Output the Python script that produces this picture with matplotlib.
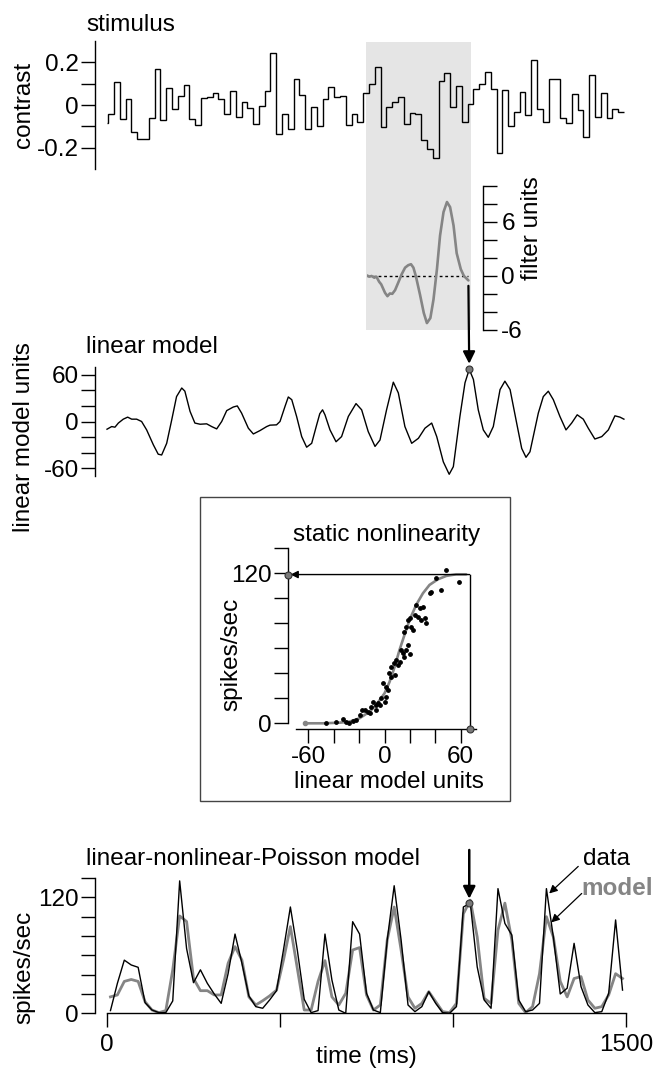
import numpy as np
import matplotlib.pyplot as plt
from matplotlib.patches import Rectangle, ConnectionPatch
import matplotlib.transforms as mtransforms

plt.rcParams['font.family'] = ['Liberation Sans', 'DejaVu Sans']
plt.rcParams['font.size'] = 17.5

# ------------------------------------------------------------
# data
# ------------------------------------------------------------

# stimulus: one contrast value per frame (first frame is partial)
stim_frame_ms = 16.75
stim_first_edge = 3.5
stim_vals = [
    -0.086, -0.04, 0.11, -0.067, 0.028, -0.125, -0.16, -0.16, -0.062, 0.17,
    -0.07, 0.078, -0.02, 0.044, 0.094, -0.066, -0.094, 0.031, 0.039, 0.058,
    0.028, -0.04, 0.067, -0.055, 0.012, -0.016, -0.089, -0.003, 0.067, 0.245,
    -0.137, -0.04, -0.112, 0.12, 0.047, -0.114, -0.011, -0.1, 0.028, 0.086,
    0.039, 0.042, -0.095, -0.044, -0.08, 0.056, 0.1, 0.18, -0.103, -0.008,
    0.016, 0.036, -0.087, -0.037, -0.042, -0.166, -0.206, -0.25, 0.114, 0.148,
    -0.009, 0.09, -0.08, 0.006, 0.077, 0.1, 0.155, 0.073, -0.225, 0.07,
    -0.098, -0.031, 0.063, -0.048, 0.21, -0.02, -0.078, 0.123, 0.123, -0.062,
    -0.084, 0.053, -0.023, -0.152, 0.139, -0.056, 0.058, -0.062, -0.019, -0.031,
]
stim_edges = np.concatenate([[0.0], stim_first_edge + stim_frame_ms * np.arange(len(stim_vals))])

# filter window on the stimulus (ms)
window_ms = (750, 1052)

# linear filter (lag in ms, filter units)
filt_lag = [-300, -292, -286, -278, -272, -264, -258, -247, -240, -233, -226, -218,
            -209, -199, -189, -180, -172, -165, -158, -146, -135, -126, -116, -107,
            -97, -88, -78, -68, -59, -49, -40, -28, -19, -11, -6]
filt_val = [0.07, -0.07, 0.0, -0.19, -0.07, -0.64, -0.93, -1.87, -2.24, -1.94, -1.98, -1.57,
            -0.75, 0.19, 0.93, 1.2, 1.31, 0.93, 0.0, -2.06, -4.11, -5.23, -4.67, -2.62,
            0.75, 4.49, 7.1, 8.22, 7.66, 5.61, 2.54, 0.75, 0.0, -0.3, -0.49]

# linear model output
lin_t = [0, 13.5, 23, 32.8, 47, 59.7, 71.3, 85.7, 100, 114.6, 134, 148, 158, 172.5,
         187, 201, 216, 225, 240, 254, 269, 288, 302.5, 317, 331.5, 346, 365, 376.6,
         389, 408.5, 423, 442, 461.5, 471, 490, 500, 514.5, 524, 534, 548, 562.7, 577,
         591.6, 606, 615, 623, 630, 644.5, 662, 678, 697.5, 719.7, 736, 755, 774.6,
         789, 808, 827.5, 842, 861, 880.6, 900, 919, 938.4, 953, 972, 989, 1001,
         1020, 1034.7, 1047, 1059, 1073, 1087.6, 1102, 1116.5, 1136, 1150, 1165, 1184,
         1198.6, 1211, 1222.5, 1246.6, 1261, 1275.5, 1290, 1309, 1326.6, 1343, 1359,
         1376.6, 1391, 1410, 1430, 1449, 1468, 1482.6, 1494]
lin_val = [-9.9, -6.5, -7.3, -2, 3, 5.6, 3, 3, 0, -10.8, -30, -42, -43, -28,
           2, 32, 43, 39, 13, -2, -3.5, -3, -6.5, -9.5, 0, 14, 18.6, 20,
           10.8, -8.6, -16, -11.7, -6.5, -4.7, -4.3, 0, 19.4, 31.5, 28, 6.5, -19.4, -33,
           -28, -4.3, 10, 15, 8.6, -10.8, -26, -19.4, 6.5, 23, 15, -13, -32,
           -23.8, 15, 50.5, 36.7, -6.5, -28, -21.6, -8.6, -2, -19.4, -51.8, -67.8, -58,
           6.5, 49.7, 67, 54, 15, -10.8, -20.3, -6.5, 41, 51.8, 41, -2,
           -34.6, -46, -38.9, 10.8, 32, 38.9, 28, 6.5, -10.8, -2, 8.6,
           3, -8.6, -22.5, -19.4, -10.8, 7.3, 5.6, 3]

# highlighted time point
peak_t = 1047
peak_lin = 67
peak_rate = 119
peak_lnp = 114.5

# static nonlinearity: fitted curve and binned data
nl_x = [-63, -48.6, -35.4, -27.6, -19.7, -11.8, -6.6, 0, 3.9, 7.9, 11.8, 15.7,
        19.7, 24.9, 30.2, 35.4, 42, 48.6, 56.4, 64.3]
nl_y = [0, 0, 0.5, 1.3, 4, 9.3, 14.7, 24, 33, 45, 58.7, 70.7,
        82.7, 94.7, 104, 110.7, 115.2, 117.9, 119.2, 119.2]
pts_x = [-45.9, -38.1, -32.8, -30.2, -28.1, -24.9, -22.3, -19.7, -17.6, -15.7, -13.1,
         -11.8, -10.5, -9.2, -7.1, -6.6, -5.2, -3.4, -2.6, -1.3, 0, 0.8, 1.3, 2.6,
         3.4, 4.7, 5.2, 7.1, 7.9, 9.2, 10.5, 11.8, 13.1, 14.4, 15.7, 17.1, 18.4,
         19.7, 15.7, 17.1, 18.4, 19.7, 21, 22.3, 23.6, 24.9, 26.2, 27.6, 28.9, 30.2,
         31.5, 32.8, 35.4, 36.7, 40.7, 44.6, 48.6, 58.5]
pts_y = [0.5, 1.3, 3.2, 1.3, 0.5, 2.1, 2.7, 6.7, 10.7, 10.7, 9.3,
         8.5, 13.3, 17.3, 14.7, 10.7, 16, 14.7, 20, 32, 17.3, 29.3, 21.3, 26.7,
         40, 37.3, 45.3, 48, 38.7, 50.7, 46.7, 49.3, 58.7, 56, 53.3, 58.7, 62.7,
         55.5, 73.3, 77.3, 82.7, 84, 77.3, 74.7, 86.7, 94.7, 85.3, 92, 82.7, 93.3,
         84, 80, 104, 105.3, 116, 106.7, 122.7, 113.3]

# LNP model vs data firing rate (20 ms bins)
lnp_t = np.arange(10, 1500, 20)
rate_data = [2.8, 31, 55, 50, 47.6, 11, 3.4, 0.7, 0.7, 12.8, 137, 67, 31.7, 45, 31, 20,
             10.3, 41, 82, 51.7, 18, 6.9, 5.2, 13.8, 23.4, 65.5, 110, 65.5, 14.5, 0.7, 2.8, 82,
             34.5, 3.4, 0, 94.8, 82, 20.7, 3.4, 0.7, 76, 132, 76, 8.6, 1.7, 6.9, 22.4,
             10.3, 0.7, 0, 6.9, 110, 114, 48, 13.8, 5.2, 129, 93, 81, 13.8, 1.7, 3.4,
             10.3, 129, 79, 20, 26, 72.4, 27.6, 8.6, 0.7, 1.7, 20.7, 96.6, 24]
rate_model = [17, 19, 33, 35, 33, 12, 3.4, 0.7, 2.8, 45, 100.7, 95, 36, 23.4, 23.4, 19,
              19, 51.7, 69, 55, 17, 8.6, 13, 18, 24, 55, 89.7, 46.6, 3.4, 3.4, 33, 54.5,
              17, 8.6, 20.7, 65.5, 68, 19, 3.4, 8.6, 76, 110, 65.5, 17, 5.2, 10.3, 22.4,
              12, 1.7, 0.7, 10.3, 103, 117, 79, 15.5, 10.3, 86, 114, 76, 10.3, 0.7, 6.9,
              41, 100, 79, 33, 17, 36, 38, 13.8, 5.2, 6.9, 19, 41, 36]

GRAY = '#858585'
DOT = '#7a7a7a'
SHADE = '#e5e5e5'

# ------------------------------------------------------------
# layout (pixel based)
# ------------------------------------------------------------
W, H = 655, 1071
fig = plt.figure(figsize=(W / 100, H / 100), dpi=100)

T_LIM = (-34.7, 1511.6)


def add_ax(left, top, right, bottom):
    ax = fig.add_axes([left / W, 1 - bottom / H, (right - left) / W, (bottom - top) / H])
    ax.patch.set_visible(False)
    for s in ax.spines.values():
        s.set_visible(False)
        s.set_linewidth(1.0)
    ax.tick_params(direction='out', length=10, width=1.0, pad=1.5)
    return ax


def ftext(x, y, s, **kw):
    fig.text(x / W, 1 - y / H, s, **kw)


# ---------------- stimulus ----------------
ax_s = add_ax(95, 41, 630, 169)
ax_s.stairs(stim_vals, stim_edges, baseline=None, color='k', lw=1.0)
ax_s.set_xlim(T_LIM)
ax_s.set_ylim(-0.3, 0.3)
ax_s.spines['left'].set_visible(True)
ax_s.set_xticks([])
ax_s.set_yticks([-0.2, -0.1, 0, 0.1, 0.2])
ax_s.set_yticklabels(['-0.2', '', '0', '', '0.2'])
ftext(86, 31, 'stimulus', ha='left', va='baseline')
ftext(24, 105, 'contrast', rotation=90, ha='center', va='center')

# shaded filter window (stimulus top down to filter bottom)
shade = Rectangle((window_ms[0], 1 - 330 / H), window_ms[1] - window_ms[0], (330 - 42) / H,
                  transform=mtransforms.blended_transform_factory(ax_s.transData, fig.transFigure),
                  facecolor=SHADE, edgecolor='none', zorder=-5)
fig.add_artist(shade)

# ---------------- filter ----------------
ax_f = add_ax(366.7, 186, 483.3, 330)
ax_f.hlines(0, filt_lag[0], filt_lag[-1], colors='k', linestyles=(0, (2, 2)), lw=1.0)
ax_f.plot(filt_lag, filt_val, color=GRAY, lw=1.9, solid_capstyle='round')
ax_f.set_xlim(-300, 37)
ax_f.set_ylim(-6, 10)
ax_f.spines['right'].set_visible(True)
ax_f.yaxis.tick_right()
ax_f.set_xticks([])
ax_f.set_yticks(np.arange(-6, 11, 2))
ax_f.set_yticklabels(['-6', '', '', '0', '', '', '6', '', ''])
ax_f.tick_params(axis='y', pad=3)
ftext(532, 228, 'filter units', rotation=90, ha='center', va='center')

# ---------------- linear model ----------------
ax_l = add_ax(95, 367, 630, 476)
ax_l.plot(lin_t, lin_val, color='k', lw=1.0)
ax_l.plot(peak_t, peak_lin, 'o', ms=5, mfc=DOT, mec='#333333', mew=0.8, clip_on=False, zorder=5)
ax_l.set_xlim(T_LIM)
ax_l.set_ylim(-70, 70)
ax_l.spines['left'].set_visible(True)
ax_l.set_xticks([])
ax_l.set_yticks(np.arange(-60, 61, 20))
ax_l.set_yticklabels(['-60', '', '', '0', '', '', '60'])
ftext(86, 353, 'linear model', ha='left', va='baseline')
ftext(24, 437, 'linear model units', rotation=90, ha='center', va='center')

arrow_f = ConnectionPatch(xyA=(filt_lag[-1], filt_val[-1] - 0.6), coordsA=ax_f.transData,
                          xyB=(peak_t, peak_lin), coordsB=ax_l.transData,
                          arrowstyle='-|>', shrinkA=0, shrinkB=4, mutation_scale=18,
                          lw=1.6, color='k', zorder=6)
fig.add_artist(arrow_f)

# ---------------- static nonlinearity ----------------
fig.add_artist(Rectangle((200 / W, 1 - 801 / H), 310 / W, 304 / H, transform=fig.transFigure,
                         fill=False, edgecolor='#444444', lw=1.0))

ax_n = add_ax(288, 548.3, 476, 729)
ax_n.set_xlim(-76, 72)
ax_n.set_ylim(-4.56, 140)
ax_n.spines['left'].set_visible(True)
ax_n.spines['bottom'].set_visible(True)
ax_n.spines['left'].set_bounds(0, 140)
ax_n.spines['bottom'].set_bounds(-70, 72)
ax_n.set_xticks(np.arange(-60, 61, 20))
ax_n.set_xticklabels(['-60', '', '', '0', '', '', '60'])
ax_n.set_yticks(np.arange(0, 141, 20))
ax_n.set_yticklabels(['0', '', '', '', '', '', '120', ''])
ax_n.tick_params(axis='x', pad=2)
ax_n.plot(nl_x, nl_y, color=GRAY, lw=1.9, solid_capstyle='round', zorder=3)
ax_n.plot(nl_x[0], nl_y[0], 'o', ms=3, mfc=GRAY, mec=GRAY, zorder=3)
ax_n.scatter(pts_x, pts_y, s=6, color='k', zorder=4, clip_on=False)
ax_n.plot([peak_lin, peak_lin], [-4.56, peak_rate], color='k', lw=1.0, clip_on=False)
ax_n.annotate('', xy=(-74, peak_rate), xytext=(peak_lin, peak_rate),
              arrowprops=dict(arrowstyle='-|>', color='k', lw=1.0, mutation_scale=11,
                              shrinkA=0, shrinkB=0),
              annotation_clip=False)
ax_n.plot(peak_lin, -4.56, 'o', ms=5, mfc=DOT, mec='#333333', mew=0.8, clip_on=False, zorder=5)
ax_n.plot(-76, peak_rate, 'o', ms=5, mfc=DOT, mec='#333333', mew=0.8, clip_on=False, zorder=5)
ftext(293, 541, 'static nonlinearity', ha='left', va='baseline')
ftext(231, 654, 'spikes/sec', rotation=90, ha='center', va='center')
ftext(389, 782, 'linear model units', ha='center', va='center')

# ---------------- LNP model ----------------
ax_p = add_ax(95, 878, 630, 1013.3)
ax_p.plot(lnp_t, rate_data, color='k', lw=1.0, zorder=3)
ax_p.plot(lnp_t, rate_model, color=GRAY, lw=2.0, zorder=2)
ax_p.plot(peak_t, peak_lnp, 'o', ms=5, mfc=DOT, mec='#333333', mew=0.8, clip_on=False, zorder=5)
ax_p.annotate('', xy=(peak_t, peak_lnp + 4), xytext=(peak_t, 169),
              arrowprops=dict(arrowstyle='-|>', color='k', lw=1.8, mutation_scale=18,
                              shrinkA=0, shrinkB=0),
              annotation_clip=False)
ax_p.set_xlim(T_LIM)
ax_p.set_ylim(0, 140)
ax_p.spines['left'].set_visible(True)
ax_p.spines['bottom'].set_visible(True)
ax_p.spines['bottom'].set_bounds(0, 1500)
ax_p.set_xticks([0, 500, 1000, 1500])
ax_p.set_xticklabels(['0', '', '', '1500'])
ax_p.tick_params(axis='x', pad=5)
ax_p.set_yticks(np.arange(0, 141, 20))
ax_p.set_yticklabels(['0', '', '', '', '', '', '120', ''])

ax_p.text(1376, 153, 'data', ha='left', va='baseline', clip_on=False)
ax_p.text(1370, 122, 'model', ha='left', va='baseline', color=GRAY, fontweight='bold',
          clip_on=False)
ax_p.annotate('', xy=(1278, 124), xytext=(1362, 152),
              arrowprops=dict(arrowstyle='-|>', color='k', lw=0.9, mutation_scale=12,
                              shrinkA=0, shrinkB=0),
              annotation_clip=False)
ax_p.annotate('', xy=(1284, 94), xytext=(1372, 124),
              arrowprops=dict(arrowstyle='-|>', color='k', lw=0.9, mutation_scale=12,
                              shrinkA=0, shrinkB=0),
              annotation_clip=False)

ftext(86, 865, 'linear-nonlinear-Poisson model', ha='left', va='baseline')
ftext(24, 967, 'spikes/sec', rotation=90, ha='center', va='center')
ftext(366, 1057, 'time (ms)', ha='center', va='center')

fig.savefig('out.png', dpi=100)
